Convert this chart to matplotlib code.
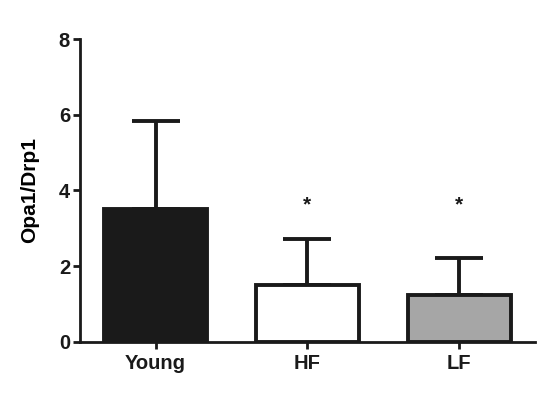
import numpy as np
import matplotlib.pyplot as plt

plt.rcParams['font.family'] = ['Liberation Sans', 'DejaVu Sans']
plt.rcParams['font.weight'] = 'bold'

groups = ['Young', 'HF', 'LF']
means  = [3.51, 1.50, 1.24]
sems   = [2.33, 1.22, 0.99]
colors = ['#1a1a1a', 'white', '#a6a6a6']
stars  = ['', '*', '*']
star_y = 3.62

fig = plt.figure(figsize=(5.5, 3.94), dpi=100)
ax = fig.add_axes([0.145, 0.132, 0.828, 0.769])

x = np.arange(len(groups))
ax.bar(x, means, width=0.68, color=colors, edgecolor='#1a1a1a', linewidth=2.8, zorder=2)
ax.errorbar(x, means, yerr=[np.zeros(len(sems)), sems], fmt='none', ecolor='#1a1a1a',
            elinewidth=2.8, capsize=17, capthick=2.8, zorder=1)
for i in range(len(groups)):
    if stars[i]:
        ax.text(x[i], star_y, stars[i], ha='center', va='center',
                fontsize=15, color='#1a1a1a')

ax.set_xlim(-0.5, 2.5)
ax.set_ylim(0, 8)
ax.set_yticks([0, 2, 4, 6, 8])
ax.set_xticks(x)
ax.set_xticklabels(groups)
ax.set_ylabel('Opa1/Drp1', fontsize=15, fontweight='bold', labelpad=14)
for s in ['top', 'right']:
    ax.spines[s].set_visible(False)
for s in ['left', 'bottom']:
    ax.spines[s].set_linewidth(2)
    ax.spines[s].set_color('#1a1a1a')
ax.tick_params(axis='both', width=2, length=5, labelsize=14.5, colors='#1a1a1a', pad=2)
ax.tick_params(axis='x', pad=4)

fig.savefig('out.png', dpi=100)
